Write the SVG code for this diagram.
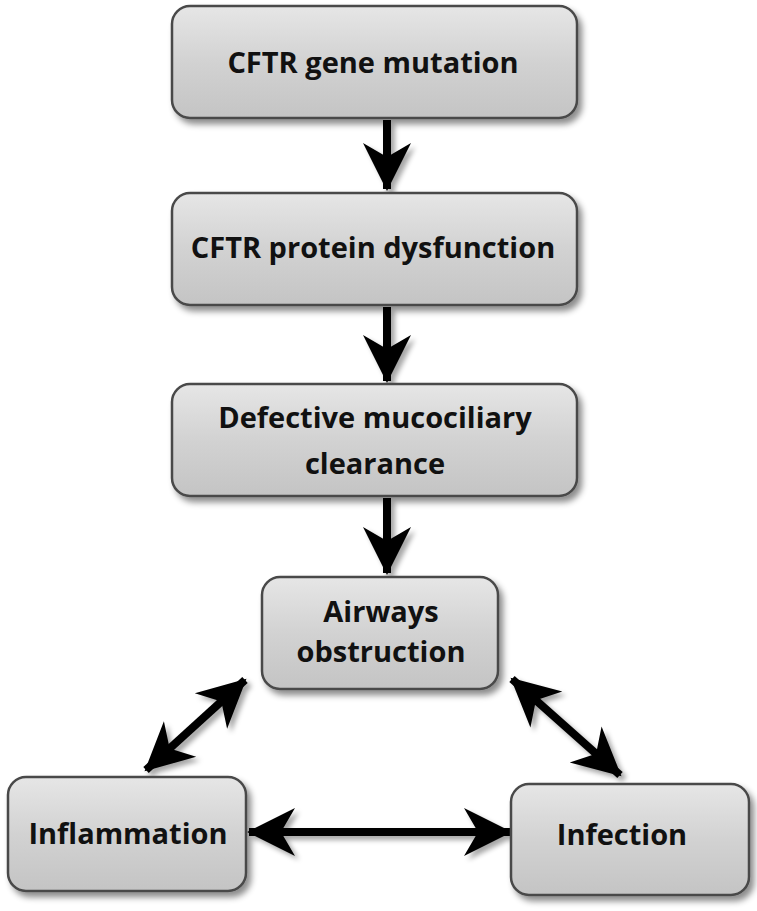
<svg xmlns="http://www.w3.org/2000/svg" width="757" height="911" viewBox="0 0 757 911">
<defs>
<linearGradient id="g" x1="0" y1="0" x2="0" y2="1">
<stop offset="0" stop-color="#e6e6e6"/>
<stop offset="0.5" stop-color="#d2d2d2"/>
<stop offset="1" stop-color="#c4c4c4"/>
</linearGradient>
<filter id="sh" x="-10%" y="-10%" width="125%" height="130%">
<feDropShadow dx="4" dy="5" stdDeviation="3" flood-color="#000" flood-opacity="0.45"/>
</filter>
<filter id="ash" x="-20%" y="-20%" width="140%" height="140%">
<feDropShadow dx="4" dy="4" stdDeviation="2.5" flood-color="#000" flood-opacity="0.35"/>
</filter>
<marker id="ah" markerUnits="userSpaceOnUse" markerWidth="54" markerHeight="54" viewBox="-48 -27 52 54" refX="0" refY="0" orient="auto-start-reverse">
<path d="M2,0 L-46,-24 L-32,0 L-46,24 Z" fill="#000"/>
</marker>
</defs>
<style>
.box{fill:url(#g);stroke:#4a4a4a;stroke-width:2.5;filter:url(#sh)}
.t{font-family:"Open Sans","Liberation Sans",sans-serif;font-weight:bold;font-size:29px;fill:#111;text-anchor:middle}
.c{stroke:#000;stroke-width:8;fill:none;marker-end:url(#ah)}
.d{marker-start:url(#ah)}
</style>
<g id="connectors" filter="url(#ash)">
<line class="c" x1="387" y1="120" x2="387" y2="189"/>
<line class="c" x1="387" y1="307" x2="387" y2="381"/>
<line class="c" x1="387" y1="498" x2="387" y2="573"/>
<line class="c d" x1="245" y1="680" x2="146" y2="770"/>
<line class="c d" x1="512" y1="679" x2="620" y2="775"/>
<line class="c d" x1="249" y1="832" x2="510" y2="832"/>
</g>
<g id="n1"><rect class="box" x="172" y="6" width="405" height="112" rx="18"/><text class="t" x="373" y="73">CFTR gene mutation</text></g>
<g id="n2"><rect class="box" x="172" y="193" width="405" height="112" rx="18"/><text class="t" x="373" y="258">CFTR protein dysfunction</text></g>
<g id="n3"><rect class="box" x="172" y="384" width="405" height="112" rx="18"/><text class="t" x="375" y="428">Defective mucociliary</text><text class="t" x="375" y="474">clearance</text></g>
<g id="n4"><rect class="box" x="262" y="577" width="236" height="112" rx="18"/><text class="t" x="381" y="622">Airways</text><text class="t" x="381" y="662">obstruction</text></g>
<g id="n5"><rect class="box" x="8" y="777" width="238" height="114" rx="18"/><text class="t" x="128" y="844">Inflammation</text></g>
<g id="n6"><rect class="box" x="511" y="784" width="238" height="111" rx="18"/><text class="t" x="622" y="845">Infection</text></g>
</svg>
